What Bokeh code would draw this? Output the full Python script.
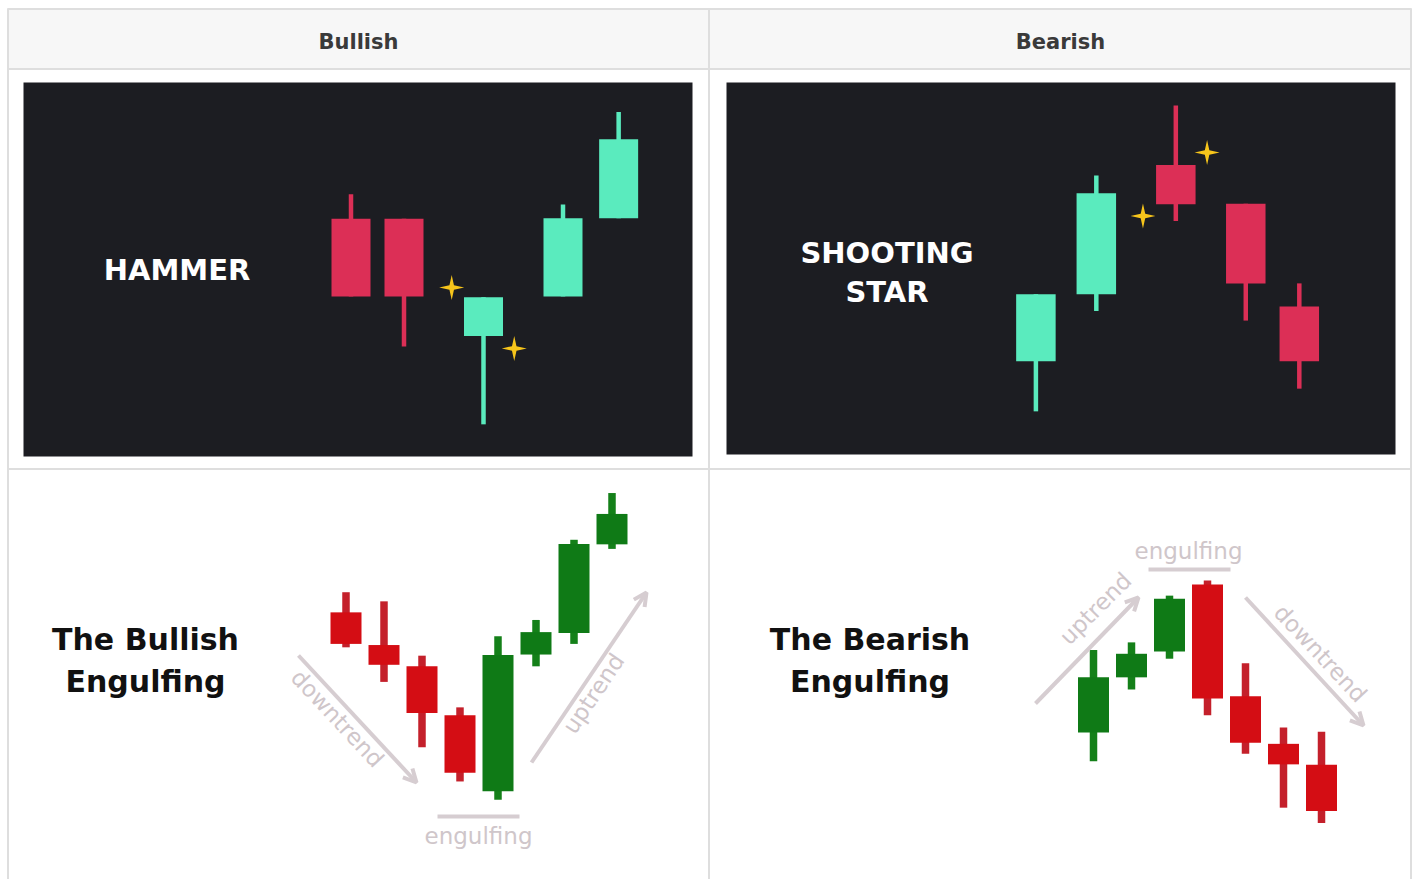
import math
from bokeh.plotting import figure
from bokeh.models import Range1d, Arrow, OpenHead
from bokeh.core.properties import value
from bokeh.embed import file_html
from bokeh.resources import INLINE

# ---------------- data ----------------
column_headers = ["Bullish", "Bearish"]
pattern_titles = ["HAMMER", "SHOOTING\nSTAR", "The Bullish\nEngulfing", "The Bearish\nEngulfing"]
trend_labels = ["downtrend", "uptrend", "engulfing"]

# Hammer (bullish reversal)
hammer_t = [1.0, 2.0, 3.5, 5.0, 6.05]
hammer_open = [63.6, 63.6, 32.2, 42.8, 63.7]
hammer_high = [70.1, 63.6, 42.6, 67.4, 92.1]
hammer_low = [42.8, 29.4, 8.6, 42.8, 63.7]
hammer_close = [42.8, 42.8, 42.6, 63.7, 84.8]
hammer_spark_t = [2.90, 4.08]
hammer_spark_p = [45.2, 28.9]

# Shooting star (bearish reversal)
shoot_t = [1.0, 2.14, 3.64, 4.96, 5.97]
shoot_open = [25.1, 43.1, 77.8, 67.4, 39.8]
shoot_high = [43.1, 75.0, 93.8, 67.4, 46.0]
shoot_low = [11.6, 38.6, 62.8, 36.0, 17.7]
shoot_close = [43.1, 70.2, 67.3, 46.0, 25.1]
shoot_spark_t = [3.02, 4.23]
shoot_spark_p = [64.1, 81.2]

# Bullish engulfing
bull_t = [1, 2, 3, 4, 5, 6, 7, 8]
bull_open = [65.3, 56.7, 51.1, 38.2, 18.2, 54.2, 59.9, 83.2]
bull_high = [70.6, 68.2, 53.9, 40.3, 59.0, 63.3, 84.4, 96.7]
bull_low = [56.1, 47.0, 29.8, 20.8, 16.0, 51.1, 57.0, 82.0]
bull_close = [57.0, 51.5, 38.8, 23.1, 54.1, 60.1, 83.3, 91.2]

# Bearish engulfing
bear_t = [1, 2, 3, 4, 5, 6, 7]
bear_open = [33.7, 48.2, 55.0, 72.6, 43.2, 30.7, 25.2]
bear_high = [55.4, 57.4, 69.7, 73.7, 51.9, 35.0, 33.9]
bear_low = [26.1, 45.0, 53.1, 38.2, 28.1, 13.9, 9.9]
bear_close = [48.2, 54.4, 68.9, 42.6, 31.0, 25.3, 13.0]

# ---------------- figure ----------------
W, H = 1416, 879
p = figure(width=W, height=H, x_range=Range1d(0, W), y_range=Range1d(H, 0),
           output_backend="svg", toolbar_location=None, min_border=0,
           x_axis_type=None, y_axis_type=None, outline_line_color=None,
           background_fill_color="white", border_fill_color="white")
p.grid.visible = False

BORDER = "#dedede"
# header row
p.quad(left=8, right=1410, top=9, bottom=68, fill_color="#f7f7f7", line_color=None)
# table borders
p.segment(x0=[7, 7, 7], y0=[8.5, 68.5, 468.5], x1=[1411, 1411, 1411], y1=[8.5, 68.5, 468.5],
          line_color=BORDER, line_width=2)
p.segment(x0=[7.5, 708.5, 1410.5], y0=[8, 8, 8], x1=[7.5, 708.5, 1410.5], y1=[H] * 3,
          line_color=BORDER, line_width=2)
p.text(x=[358, 1060], y=[41, 41], text=column_headers, text_align="center",
       text_baseline="middle", text_font=value("DejaVu Sans"), text_font_style="bold",
       text_font_size="21px", text_color="#3a3a3a")

# dark image panels
p.quad(left=[23, 726], right=[692, 1395], top=[82, 82], bottom=[456, 454],
       fill_color="#1c1d22", line_color=None)


def panel(x_src, y_src, x_tgt, y_tgt):
    return p.subplot(x_source=Range1d(*x_src), y_source=Range1d(*y_src),
                     x_target=Range1d(*x_tgt), y_target=Range1d(*y_tgt))


def candles(g, t, o, h, l, c, body_w, wick_w, up, down, up_wick, down_wick):
    top = [max(a, b) for a, b in zip(o, c)]
    bot = [min(a, b) for a, b in zip(o, c)]
    col = [up if b >= a else down for a, b in zip(o, c)]
    wcol = [up_wick if b >= a else down_wick for a, b in zip(o, c)]
    g.vbar(x=t, width=wick_w, top=h, bottom=l, fill_color=wcol, line_color=None)
    g.vbar(x=t, width=body_w, top=top, bottom=bot, fill_color=col, line_color=None)


def sparkles(g, xs, ys, px_x, px_y, R=12.5, r=3.2):
    pxs, pys = [], []
    for cx, cy in zip(xs, ys):
        ax, ay = [], []
        for k in range(8):
            ang = k * math.pi / 4
            rad = R if k % 2 == 0 else r
            ax.append(cx + rad * math.cos(ang) / px_x)
            ay.append(cy + rad * math.sin(ang) / px_y)
        pxs.append(ax)
        pys.append(ay)
    g.patches(pxs, pys, fill_color="#f7c51b", line_color=None)


MINT, CRIMSON = "#5aebbe", "#dc2f56"

# Hammer panel: 1 time unit = 53 px, price 0..100 over panel height
hx = (1 - (350.5 - 23) / 53, 1 + (692 - 350.5) / 53)
g1 = panel(hx, (0, 100), (23, 692), (456, 82))
candles(g1, hammer_t, hammer_open, hammer_high, hammer_low, hammer_close,
        39 / 53, 4.5 / 53, MINT, CRIMSON, MINT, CRIMSON)
sparkles(g1, hammer_spark_t, hammer_spark_p, 53, 3.74)

# Shooting star panel
sx = (1 - (1035.4 - 726) / 53, 1 + (1395 - 1035.4) / 53)
g2 = panel(sx, (0, 100), (726, 1395), (454, 82))
candles(g2, shoot_t, shoot_open, shoot_high, shoot_low, shoot_close,
        39.5 / 53, 4.5 / 53, MINT, CRIMSON, MINT, CRIMSON)
sparkles(g2, shoot_spark_t, shoot_spark_p, 53, 3.72)

WHITE_FONT = dict(text_font=value("DejaVu Sans"), text_font_style="bold",
                  text_font_size="29px", text_color="white", text_align="center",
                  text_baseline="middle", text_line_height=1.12)
p.text(x=[176.5], y=[269], text=[pattern_titles[0]], **WHITE_FONT)
p.text(x=[886.5], y=[272], text=[pattern_titles[1]], **WHITE_FONT)

# Engulfing panels: 1 time unit = 38 px, price 0..100 over 380 px
GREEN, RED, GREEN_W, RED_W = "#0f7a16", "#d40d14", "#148019", "#c4202b"
g3 = panel((0, 10), (0, 100), (307.5, 687.5), (860, 480))
candles(g3, bull_t, bull_open, bull_high, bull_low, bull_close,
        31 / 38, 7.5 / 38, GREEN, RED, GREEN_W, RED_W)
g4 = panel((0, 10), (0, 100), (1055, 1435), (860, 480))
candles(g4, bear_t, bear_open, bear_high, bear_low, bear_close,
        31 / 38, 7.5 / 38, GREEN, RED, GREEN_W, RED_W)

BLACK_FONT = dict(text_font=value("DejaVu Sans"), text_font_style="bold",
                  text_font_size="30px", text_color="#111111", text_align="center",
                  text_baseline="middle", text_line_height=1.22)
p.text(x=[145], y=[660], text=[pattern_titles[2]], **BLACK_FONT)
p.text(x=[869.5], y=[660], text=[pattern_titles[3]], **BLACK_FONT)

# trend arrows and labels
PALE = "#d6cdd1"
for (x0, y0, x1, y1) in [(298, 655, 416, 782), (531, 762, 646, 592),
                         (1035, 703, 1138, 597), (1245, 597, 1363, 725)]:
    p.add_layout(Arrow(end=OpenHead(size=13, line_width=4, line_color=PALE),
                       x_start=x0, y_start=y0, x_end=x1, y_end=y1,
                       line_color=PALE, line_width=4))
p.segment(x0=[437, 1148], y0=[816, 569], x1=[519, 1230], y1=[816, 569],
          line_color=PALE, line_width=4)

PALE_FONT = dict(text_font=value("DejaVu Sans"), text_font_size="23px", text_color="#cfc6ca",
                 text_align="center", text_baseline="middle")
p.text(x=[478, 1188], y=[835, 550], text=[trend_labels[2]] * 2, **PALE_FONT)
p.text(x=[337, 1320], y=[718, 653], text=[trend_labels[0]] * 2,
       angle=[-47, -47], angle_units="deg", **PALE_FONT)
p.text(x=[593, 1095], y=[693, 608], text=[trend_labels[1]] * 2,
       angle=[56, 45], angle_units="deg", **PALE_FONT)

open("out.html", "w").write(file_html(p, INLINE))
